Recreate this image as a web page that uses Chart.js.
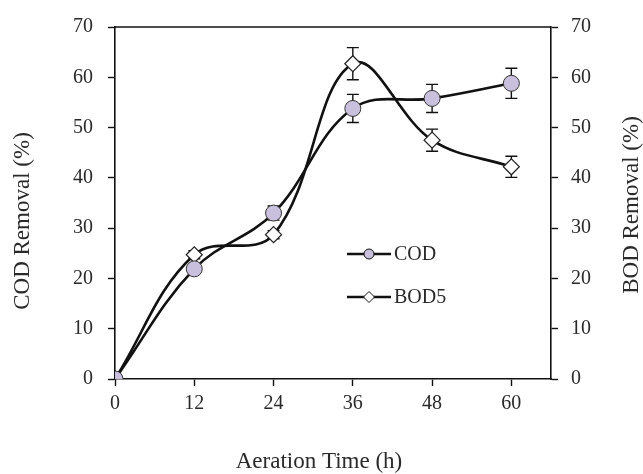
<!DOCTYPE html>
<html>
<head>
<meta charset="utf-8">
<script src="https://cdn.jsdelivr.net/npm/chart.js@4"></script>
<style>
  body { margin: 0; background: #fff; }
  canvas { display: block; }
</style>
</head>
<body>
<canvas id="grafico" width="643" height="474"></canvas>
<script>
// dados
const horas = [0, 12, 24, 36, 48, 60];
const cod = [0, 21.9, 33.0, 53.8, 55.8, 58.8];
const bod5 = [0, 24.7, 28.7, 62.7, 47.5, 42.2];
const codErro = [0, 0.8, 1.4, 2.8, 2.8, 3.0];
const bodErro = [0, 0.8, 0.8, 3.2, 2.2, 2.1];
const yTicks = [0, 10, 20, 30, 40, 50, 60, 70];

const FONTE = "'Liberation Serif', 'Times New Roman', serif";
const LILAS = '#c8c0dc';

function pontos(valores) {
  return horas.map((h, i) => ({ x: h, y: valores[i] }));
}

// barras de erro desenhadas com as escalas do próprio gráfico
const barrasErro = {
  id: 'barrasErro',
  beforeDatasetsDraw(chart) {
    const ctx = chart.ctx;
    const xs = chart.scales.x;
    const ys = chart.scales.y;
    const series = [[cod, codErro], [bod5, bodErro]];
    ctx.save();
    ctx.strokeStyle = '#111';
    ctx.lineWidth = 1.4;
    series.forEach(([vals, errs]) => {
      vals.forEach((v, i) => {
        if (!errs[i]) return;
        const px = xs.getPixelForValue(horas[i]);
        const top = ys.getPixelForValue(v + errs[i]);
        const bot = ys.getPixelForValue(v - errs[i]);
        ctx.beginPath();
        ctx.moveTo(px, top); ctx.lineTo(px, bot);
        ctx.moveTo(px - 6, top); ctx.lineTo(px + 6, top);
        ctx.moveTo(px - 6, bot); ctx.lineTo(px + 6, bot);
        ctx.stroke();
      });
    });
    ctx.restore();
  }
};

// borda superior, títulos dos eixos e legenda
const extras = {
  id: 'extras',
  afterDraw(chart) {
    const ctx = chart.ctx;
    const a = chart.chartArea;
    ctx.save();
    ctx.strokeStyle = '#111';
    ctx.lineWidth = 1.6;
    ctx.beginPath();
    ctx.moveTo(a.left, a.top);
    ctx.lineTo(a.right, a.top);
    ctx.stroke();

    ctx.fillStyle = '#2a2a2a';
    ctx.font = '23px ' + FONTE;
    ctx.textAlign = 'center';
    ctx.textBaseline = 'middle';
    ctx.fillText('Aeration Time (h)', 319, 462);

    ctx.save();
    ctx.translate(23, 221);
    ctx.rotate(-Math.PI / 2);
    ctx.fillText('COD Removal (%)', 0, 0);
    ctx.restore();

    ctx.save();
    ctx.translate(632, 205);
    ctx.rotate(-Math.PI / 2);
    ctx.fillText('BOD Removal (%)', 0, 0);
    ctx.restore();

    // legenda
    const itens = [
      { texto: 'COD', y: 254, tipo: 'circulo' },
      { texto: 'BOD5', y: 297, tipo: 'losango' }
    ];
    itens.forEach(it => {
      ctx.strokeStyle = '#111';
      ctx.lineWidth = 2.5;
      ctx.beginPath();
      ctx.moveTo(347, it.y);
      ctx.lineTo(391, it.y);
      ctx.stroke();
      ctx.lineWidth = 1;
      ctx.beginPath();
      if (it.tipo === 'circulo') {
        ctx.fillStyle = LILAS;
        ctx.arc(369, it.y, 5, 0, Math.PI * 2);
      } else {
        ctx.fillStyle = '#fff';
        ctx.moveTo(369, it.y - 5.5);
        ctx.lineTo(374.5, it.y);
        ctx.lineTo(369, it.y + 5.5);
        ctx.lineTo(363.5, it.y);
        ctx.closePath();
      }
      ctx.fill();
      ctx.stroke();
      ctx.fillStyle = '#2a2a2a';
      ctx.font = '20px ' + FONTE;
      ctx.textAlign = 'left';
      ctx.fillText(it.texto, 394, it.y + 1);
    });
    ctx.restore();
  }
};

const eixoY = (posicao, largura, padding) => ({
  type: 'linear',
  position: posicao,
  min: 0,
  max: 70,
  afterBuildTicks: axis => { axis.ticks = yTicks.map(v => ({ value: v })); },
  afterFit: axis => { axis.width = largura; },
  ticks: {
    font: { family: FONTE, size: 20 },
    color: '#2a2a2a',
    padding: padding
  },
  grid: { drawOnChartArea: false, drawTicks: true, tickLength: 7, color: '#111', tickWidth: 1.4 },
  border: { display: true, color: '#111', width: 1.6 }
});

new Chart(document.getElementById('grafico'), {
  type: 'line',
  data: {
    datasets: [
      {
        label: 'COD',
        data: pontos(cod),
        borderColor: '#111',
        borderWidth: 2.6,
        tension: 0.38,
        pointStyle: 'circle',
        pointRadius: 8,
        pointBackgroundColor: LILAS,
        pointBorderColor: '#333',
        pointBorderWidth: 1,
        yAxisID: 'y'
      },
      {
        label: 'BOD5',
        data: pontos(bod5),
        borderColor: '#111',
        borderWidth: 2.6,
        tension: 0.38,
        pointStyle: 'rectRot',
        pointRadius: 8,
        pointBackgroundColor: '#fff',
        pointBorderColor: '#222',
        pointBorderWidth: 1.2,
        yAxisID: 'y'
      }
    ]
  },
  options: {
    responsive: false,
    animation: false,
    layout: { padding: { top: 24, left: 0, right: 0, bottom: 0 } },
    plugins: {
      legend: { display: false },
      tooltip: { enabled: false }
    },
    scales: {
      x: {
        type: 'linear',
        min: 0,
        max: 66,
        afterFit: axis => { axis.height = 95; },
        ticks: {
          stepSize: 12,
          includeBounds: false,
          font: { family: FONTE, size: 20 },
          color: '#2a2a2a',
          padding: 6
        },
        grid: { drawOnChartArea: false, drawTicks: true, tickLength: 7, color: '#111', tickWidth: 1.4 },
        border: { display: true, color: '#111', width: 1.6 }
      },
      y: eixoY('left', 115, 15),
      y2: eixoY('right', 92, 13)
    }
  },
  plugins: [barrasErro, extras]
});
</script>
</body>
</html>
